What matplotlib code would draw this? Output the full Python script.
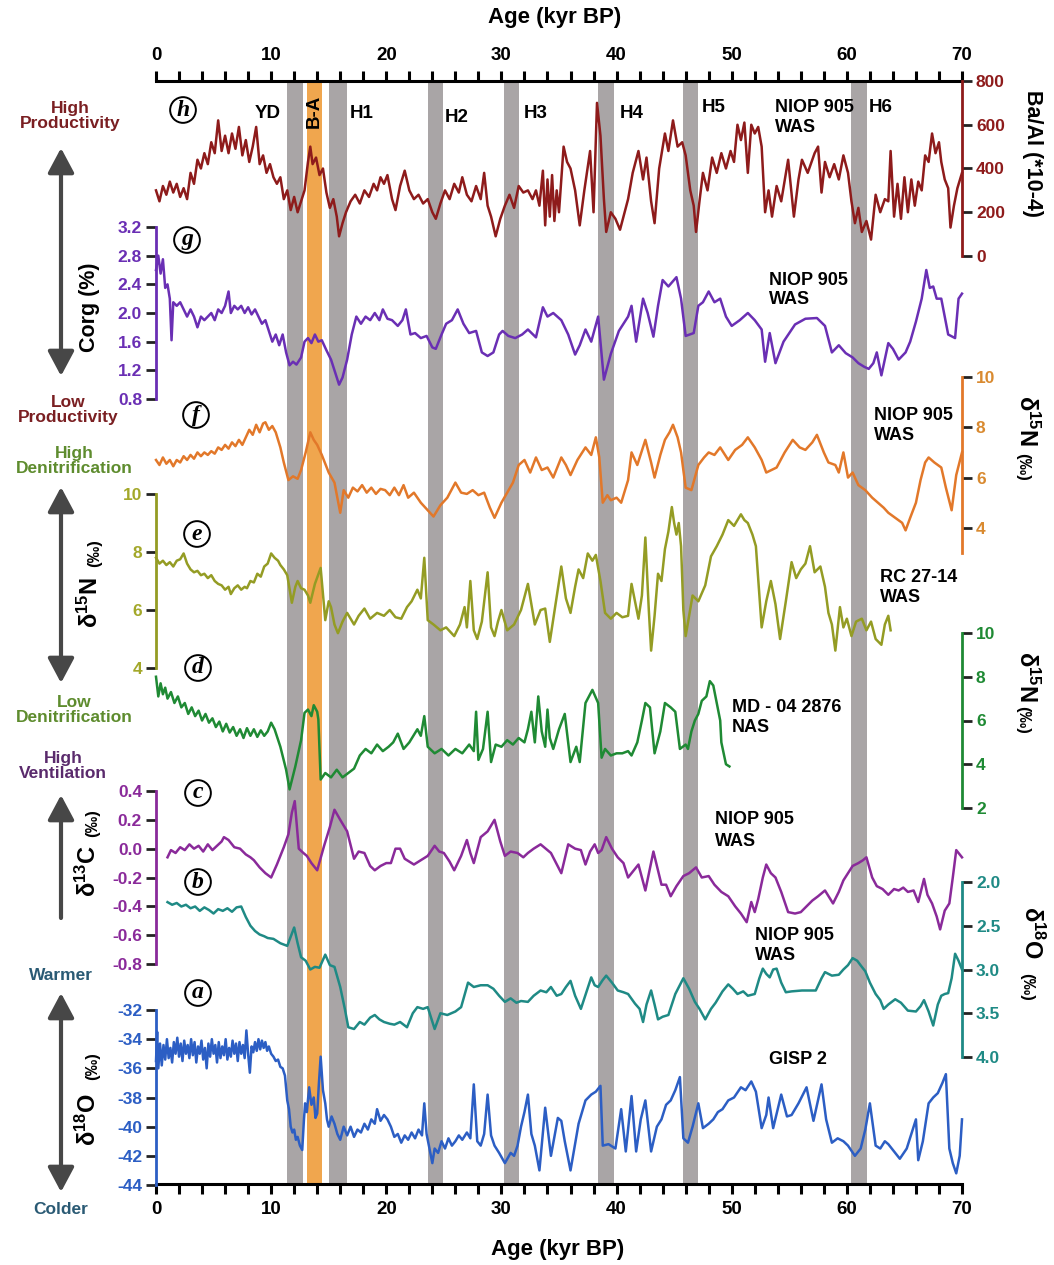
import matplotlib
matplotlib.use('Agg')
import matplotlib.pyplot as plt
from matplotlib.patches import FancyArrowPatch
from matplotlib.ticker import MultipleLocator

# ---------------- DATA ----------------
# (h) Ba/Al NIOP 905
age_h = [0.0, 0.3, 0.6, 0.9, 1.2, 1.5, 1.8, 2.1, 2.4, 2.7,
         3.0, 3.3, 3.6, 3.9, 4.2, 4.5, 4.8, 5.1, 5.4, 5.7,
         6.0, 6.3, 6.6, 6.9, 7.2, 7.5, 7.8, 8.1, 8.4, 8.7,
         9.0, 9.3, 9.6, 9.9, 10.2, 10.5, 10.8, 11.1, 11.4, 11.7,
         12.0, 12.3, 12.6, 12.9, 13.2, 13.4, 13.6, 13.9, 14.2, 14.5,
         14.8, 15.1, 15.4, 15.7, 15.9, 16.2, 16.5, 16.9, 17.3, 17.7,
         18.1, 18.5, 18.9, 19.2, 19.5, 19.8, 20.1, 20.5, 20.8, 21.2,
         21.6, 22.0, 22.4, 22.8, 23.2, 23.6, 24.0, 24.3, 24.7, 25.1,
         25.5, 25.9, 26.3, 26.6, 27.0, 27.4, 27.8, 28.2, 28.5, 28.8,
         29.1, 29.5, 29.9, 30.3, 30.7, 31.1, 31.5, 31.9, 32.3, 32.7,
         33.0, 33.3, 33.6, 33.8, 34.0, 34.2, 34.4, 34.6, 34.8, 35.0,
         35.4, 35.7, 36.0, 36.4, 36.8, 37.2, 37.7, 38.0, 38.3, 38.6,
         38.9, 39.1, 39.5, 39.9, 40.3, 40.7, 41.0, 41.4, 41.9, 42.3,
         42.6, 43.0, 43.3, 43.7, 44.2, 44.5, 44.9, 45.3, 45.7, 46.0,
         46.4, 46.7, 46.9, 47.2, 47.5, 47.9, 48.3, 48.7, 49.1, 49.5,
         49.9, 50.2, 50.5, 50.8, 51.1, 51.4, 51.7, 52.0, 52.3, 52.6,
         52.9, 53.2, 53.5, 53.9, 54.3, 54.9, 55.4, 55.8, 56.1, 56.6,
         57.2, 57.5, 57.8, 58.1, 58.5, 58.9, 59.3, 59.7, 60.1, 60.4,
         60.7, 61.0, 61.3, 61.7, 62.1, 62.5, 62.9, 63.3, 63.6, 63.8,
         64.1, 64.4, 64.7, 65.0, 65.3, 65.6, 65.9, 66.2, 66.5, 66.8,
         67.1, 67.4, 67.7, 68.0, 68.2, 68.5, 68.8, 69.0, 69.3, 69.6,
         70.0]
baal_h = [300, 250, 320, 280, 340, 290, 330, 270, 310, 260,
          380, 330, 440, 400, 470, 420, 520, 470, 620, 480,
          550, 470, 560, 490, 590, 460, 530, 430, 500, 590,
          420, 460, 380, 420, 360, 330, 360, 260, 300, 210,
          270, 200, 250, 300, 430, 500, 420, 450, 370, 400,
          290, 220, 260, 180, 90, 150, 200, 250, 280, 240,
          300, 270, 330, 300, 360, 330, 370, 260, 210, 320,
          390, 300, 260, 280, 240, 260, 200, 170, 240, 300,
          260, 330, 290, 360, 280, 250, 320, 260, 380, 230,
          180, 90, 170, 230, 280, 220, 320, 290, 300, 260,
          300, 230, 390, 140, 350, 180, 370, 160, 300, 200,
          500, 430, 400, 300, 140, 300, 480, 200, 700, 550,
          260, 110, 200, 170, 120, 200, 260, 380, 480, 350,
          450, 250, 150, 400, 560, 480, 620, 500, 520, 460,
          300, 230, 110, 250, 380, 300, 450, 380, 470, 400,
          480, 430, 600, 530, 610, 380, 600, 560, 590, 500,
          200, 300, 180, 320, 250, 440, 180, 350, 440, 380,
          470, 500, 290, 430, 360, 420, 350, 460, 380, 250,
          150, 220, 110, 160, 75, 280, 200, 260, 250, 480,
          180, 330, 170, 360, 200, 350, 230, 340, 300, 460,
          430, 560, 470, 520, 430, 350, 310, 130, 230, 310,
          380]

# (g) Corg NIOP 905
age_g = [0.0, 0.2, 0.4, 0.6, 0.8, 1.0, 1.2, 1.35, 1.5, 1.8,
         2.1, 2.4, 2.7, 3.0, 3.3, 3.6, 3.9, 4.2, 4.5, 4.8,
         5.1, 5.4, 5.7, 6.0, 6.3, 6.5, 6.8, 7.1, 7.4, 7.7,
         8.0, 8.3, 8.6, 8.9, 9.2, 9.5, 9.8, 10.1, 10.4, 10.7,
         11.0, 11.3, 11.6, 11.9, 12.2, 12.6, 12.9, 13.2, 13.5, 13.8,
         14.1, 14.4, 14.8, 15.2, 15.6, 15.9, 16.2, 16.6, 17.0, 17.4,
         17.8, 18.2, 18.6, 19.0, 19.4, 19.7, 20.1, 20.5, 21.0, 21.4,
         21.7, 22.1, 22.5, 23.0, 23.5, 24.0, 24.3, 24.8, 25.2, 25.7,
         26.2, 26.7, 27.2, 27.8, 28.3, 28.8, 29.3, 29.8, 30.1, 30.6,
         31.2, 31.8, 32.3, 33.0, 33.6, 34.0, 34.5, 35.2, 35.8, 36.4,
         36.8, 37.3, 37.8, 38.4, 38.9, 39.5, 40.2, 41.0, 41.3, 41.7,
         42.3, 42.7, 43.2, 43.6, 44.0, 44.5, 45.2, 45.6, 46.0, 46.7,
         47.1, 47.5, 48.0, 48.5, 49.0, 49.5, 50.0, 50.7, 51.4, 52.0,
         52.6, 52.9, 53.3, 53.8, 54.5, 55.5, 56.4, 57.4, 58.1, 58.7,
         59.3, 59.9, 60.5, 61.0, 61.5, 61.9, 62.3, 62.6, 63.0, 63.6,
         64.0, 64.5, 65.1, 65.5, 66.0, 66.5, 66.9, 67.2, 67.5, 67.8,
         68.2, 68.8, 69.4, 69.7, 70.0]
corg_g = [2.6, 2.8, 2.55, 2.75, 2.35, 2.4, 2.2, 1.62, 2.15, 2.1,
          2.15, 2.05, 1.95, 2.05, 1.95, 1.8, 1.95, 1.9, 1.95, 2.0,
          1.9, 2.05, 2.0, 2.1, 2.3, 2.0, 2.1, 2.05, 2.1, 2.0,
          2.08, 1.98, 2.05, 1.95, 1.85, 1.9, 1.75, 1.6, 1.7, 1.55,
          1.7, 1.45, 1.27, 1.32, 1.28, 1.38, 1.6, 1.65, 1.58, 1.7,
          1.6, 1.62, 1.48, 1.35, 1.15, 1.0, 1.1, 1.35, 1.7, 1.95,
          1.85, 1.95, 1.9, 2.0, 1.9, 2.05, 1.92, 1.9, 1.82, 1.9,
          2.05, 1.7, 1.72, 1.65, 1.68, 1.52, 1.5, 1.7, 1.85, 1.9,
          2.05, 1.85, 1.72, 1.75, 1.45, 1.4, 1.45, 1.7, 1.75, 1.68,
          1.65, 1.7, 1.77, 1.66, 2.08, 1.95, 2.0, 1.9, 1.7, 1.42,
          1.55, 1.77, 1.6, 1.95, 1.07, 1.43, 1.75, 1.95, 2.1, 1.6,
          2.2, 2.0, 1.67, 2.1, 2.46, 2.37, 2.5, 2.2, 1.68, 1.72,
          2.1, 2.15, 2.3, 2.15, 2.2, 1.95, 1.82, 1.9, 2.0, 1.9,
          1.77, 1.32, 1.72, 1.3, 1.6, 1.84, 1.92, 1.93, 1.82, 1.45,
          1.55, 1.44, 1.38, 1.3, 1.25, 1.22, 1.3, 1.45, 1.13, 1.58,
          1.5, 1.35, 1.45, 1.6, 1.88, 2.2, 2.6, 2.35, 2.37, 2.2,
          2.2, 1.7, 1.65, 2.2, 2.27]

# (f) d15N NIOP 905
age_f = [0.0, 0.3, 0.6, 0.9, 1.2, 1.5, 1.8, 2.1, 2.4, 2.7,
         3.0, 3.3, 3.6, 3.9, 4.2, 4.5, 4.8, 5.1, 5.4, 5.7,
         6.0, 6.3, 6.6, 6.9, 7.2, 7.5, 7.8, 8.1, 8.4, 8.7,
         9.0, 9.3, 9.5, 9.8, 10.1, 10.4, 10.8, 11.1, 11.5, 11.9,
         12.3, 12.6, 13.0, 13.4, 13.7, 14.0, 14.4, 15.0, 15.5, 16.0,
         16.3, 16.7, 17.1, 17.5, 17.9, 18.3, 18.7, 19.1, 19.5, 19.9,
         20.3, 20.7, 21.1, 21.5, 21.9, 22.4, 23.0, 23.6, 24.1, 24.7,
         25.3, 26.0, 26.5, 27.0, 27.5, 28.0, 28.5, 29.0, 29.4, 30.0,
         30.5, 31.0, 31.5, 32.0, 32.5, 33.0, 33.5, 34.0, 34.5, 35.2,
         35.6, 36.0, 36.6, 37.3, 37.8, 38.2, 38.5, 38.8, 39.2, 39.5,
         40.0, 40.4, 41.0, 41.3, 41.8, 42.5, 43.0, 43.3, 43.8, 44.2,
         44.6, 44.9, 45.3, 45.6, 46.0, 46.5, 47.1, 47.6, 48.0, 48.5,
         49.0, 49.7, 50.3, 50.9, 51.4, 52.0, 52.6, 53.0, 53.9, 54.6,
         55.3, 55.9, 56.4, 57.0, 57.4, 58.0, 58.4, 59.0, 59.3, 59.7,
         60.1, 60.5, 61.0, 61.6, 62.2, 62.7, 63.2, 63.6, 64.2, 64.8,
         65.1, 65.5, 66.0, 66.4, 66.8, 67.1, 67.6, 68.2, 68.6, 69.1,
         69.5, 70.0]
d15n_f = [6.7, 6.5, 6.8, 6.55, 6.7, 6.45, 6.7, 6.6, 6.85, 6.7,
          6.9, 6.75, 7.0, 6.85, 7.0, 6.9, 7.05, 6.95, 7.2, 7.1,
          7.3, 7.15, 7.4, 7.25, 7.5, 7.3, 7.6, 7.9, 7.7, 8.1,
          7.8, 8.15, 8.2, 7.9, 8.05, 7.8, 7.2, 6.6, 5.9, 6.05,
          5.95, 6.3, 7.0, 7.8, 7.5, 7.3, 6.9, 6.2, 5.8, 4.6,
          5.5, 5.2, 5.6, 5.45, 5.7, 5.4, 5.6, 5.35, 5.55, 5.5,
          5.3, 5.6, 5.3, 5.7, 5.2, 5.4, 5.0, 4.7, 4.45, 4.9,
          5.2, 5.8, 5.4, 5.35, 5.5, 5.3, 5.4, 4.8, 4.4, 5.0,
          5.4, 5.8, 6.5, 6.7, 6.2, 6.8, 6.3, 6.4, 6.0, 6.8,
          6.5, 6.1, 6.7, 7.2, 6.9, 7.6, 6.8, 5.0, 5.3, 5.1,
          5.2, 5.0, 5.9, 7.0, 6.5, 7.5, 6.6, 6.0, 6.9, 7.5,
          7.8, 8.1, 7.6, 7.0, 5.6, 5.5, 6.5, 6.8, 7.0, 6.9,
          7.2, 6.7, 7.1, 7.3, 7.6, 7.2, 6.7, 6.2, 6.4, 7.0,
          7.5, 7.2, 7.1, 7.4, 7.7, 7.0, 6.6, 6.5, 6.2, 7.0,
          6.0, 6.2, 5.7, 5.5, 5.2, 5.0, 4.8, 4.6, 4.4, 4.2,
          3.9, 4.4, 5.0, 5.9, 6.6, 6.8, 6.6, 6.4, 5.6, 4.7,
          6.1, 7.0]

# (e) d15N RC 27-14
age_e = [0.0, 0.3, 0.6, 0.9, 1.2, 1.5, 1.8, 2.1, 2.4, 2.7,
         3.0, 3.3, 3.6, 3.9, 4.2, 4.5, 4.8, 5.1, 5.4, 5.7,
         6.0, 6.3, 6.5, 6.8, 7.1, 7.4, 7.7, 7.9, 8.2, 8.5,
         8.8, 9.1, 9.4, 9.7, 10.0, 10.3, 10.6, 10.8, 11.1, 11.4,
         11.8, 12.1, 12.3, 12.6, 12.9, 13.2, 13.4, 13.8, 14.3, 14.7,
         15.0, 15.2, 15.5, 15.8, 16.2, 16.6, 17.2, 17.6, 18.1, 18.6,
         19.2, 19.8, 20.3, 20.8, 21.3, 21.8, 22.2, 22.7, 23.0, 23.3,
         23.6, 24.1, 24.7, 25.2, 25.9, 26.4, 26.8, 27.0, 27.3, 27.6,
         27.9, 28.3, 28.8, 29.1, 29.4, 29.7, 30.0, 30.5, 31.1, 31.7,
         32.3, 32.9, 33.4, 33.8, 34.2, 34.7, 35.2, 35.6, 36.0, 36.4,
         36.7, 37.1, 37.5, 37.9, 38.2, 38.6, 39.0, 39.5, 40.0, 40.5,
         41.0, 41.3, 41.9, 42.2, 42.5, 42.8, 43.0, 43.3, 43.6, 43.9,
         44.2, 44.5, 44.8, 45.0, 45.2, 45.4, 45.6, 45.8, 46.0, 46.3,
         46.6, 47.1, 47.7, 48.2, 48.7, 49.2, 49.7, 50.2, 50.8, 51.1,
         51.4, 51.8, 52.1, 52.4, 52.6, 53.0, 53.4, 53.8, 54.2, 54.7,
         55.2, 55.6, 56.0, 56.4, 56.8, 57.2, 57.7, 58.1, 58.4, 58.7,
         59.0, 59.4, 59.7, 60.0, 60.4, 60.8, 61.3, 61.7, 62.1, 62.5,
         63.0, 63.3, 63.6, 63.8]
d15n_e = [7.8, 7.6, 7.7, 7.55, 7.65, 7.5, 7.7, 7.75, 7.95, 7.6,
          7.4, 7.3, 7.35, 7.2, 7.25, 7.1, 7.2, 7.0, 6.9, 6.85,
          6.7, 6.8, 6.55, 6.75, 6.85, 6.7, 6.8, 6.75, 7.0, 6.95,
          7.25, 7.15, 7.5, 7.6, 7.95, 7.8, 7.7, 7.55, 7.4, 7.2,
          6.25, 6.8, 7.0, 6.75, 6.7, 6.5, 6.25, 6.9, 7.45, 5.65,
          6.3, 6.1, 5.5, 5.2, 5.6, 5.9, 5.5, 5.8, 6.05, 5.7,
          5.9, 5.8, 6.0, 5.75, 5.7, 6.1, 6.3, 6.7, 6.4, 7.8,
          5.65, 5.5, 5.3, 5.4, 5.1, 5.5, 6.1, 5.4, 7.0, 5.3,
          5.0, 5.6, 7.3, 5.4, 5.1, 5.6, 6.0, 5.3, 5.5, 6.0,
          6.9, 5.5, 6.0, 6.05, 4.9, 6.2, 7.5, 6.4, 5.9, 6.8,
          7.4, 7.1, 7.95, 7.7, 7.9, 7.0, 5.9, 5.7, 5.9, 5.75,
          5.8, 6.9, 5.7, 6.5, 8.5, 6.0, 4.6, 5.8, 7.25, 7.0,
          8.1, 8.7, 9.55, 9.0, 8.6, 9.0, 8.2, 6.0, 5.1, 5.8,
          6.5, 6.3, 6.85, 7.85, 8.2, 8.6, 9.1, 8.9, 9.3, 9.1,
          9.0, 8.6, 8.2, 6.5, 5.4, 6.3, 7.0, 6.2, 5.0, 6.3,
          7.65, 7.1, 7.4, 7.6, 8.2, 7.3, 7.5, 6.8, 5.9, 5.5,
          4.6, 6.1, 5.4, 5.7, 5.1, 5.6, 5.7, 5.3, 5.6, 5.0,
          4.8, 5.5, 5.8, 5.3]

# (d) d15N MD-04 2876
age_d = [0.0, 0.2, 0.4, 0.6, 0.8, 1.0, 1.3, 1.6, 1.9, 2.2,
         2.5, 2.8, 3.1, 3.4, 3.7, 4.0, 4.3, 4.6, 4.9, 5.2,
         5.5, 5.8, 6.1, 6.4, 6.7, 7.0, 7.3, 7.6, 7.9, 8.2,
         8.5, 8.8, 9.1, 9.4, 9.7, 10.0, 10.3, 10.8, 11.3, 11.6,
         12.1, 12.6, 12.9, 13.2, 13.5, 13.7, 14.0, 14.1, 14.3, 14.7,
         15.2, 15.7, 16.2, 16.7, 17.2, 17.7, 18.2, 18.7, 19.2, 19.7,
         20.2, 20.6, 21.0, 21.5, 22.0, 22.7, 23.0, 23.3, 23.6, 24.2,
         24.8, 25.4, 26.0, 26.6, 27.2, 27.6, 27.8, 28.0, 28.4, 28.8,
         29.1, 29.5, 30.0, 30.5, 31.0, 31.5, 32.0, 32.3, 32.6, 32.9,
         33.2, 33.5, 33.8, 34.0, 34.2, 34.5, 35.0, 35.5, 36.0, 36.5,
         36.8, 37.3, 37.9, 38.4, 38.7, 39.0, 39.5, 40.0, 40.5, 41.0,
         41.3, 41.8, 42.2, 42.5, 42.9, 43.3, 43.8, 44.2, 44.7, 45.1,
         45.5, 46.0, 46.2, 46.5, 46.8, 47.1, 47.4, 47.8, 48.1, 48.4,
         49.0, 49.1, 49.5, 49.8]
d15n_d = [8.0, 7.1, 7.7, 7.2, 7.5, 7.0, 7.3, 6.8, 7.1, 6.6,
          6.8, 6.3, 6.6, 6.2, 6.45, 6.0, 6.3, 5.9, 6.1, 5.7,
          5.95, 5.5, 5.85, 5.45, 5.7, 5.3, 5.6, 5.2, 5.65, 5.3,
          5.6, 5.25, 5.55, 5.3, 5.5, 5.9, 5.6, 4.8, 3.75, 2.85,
          3.9, 5.1, 6.35, 6.5, 6.2, 6.7, 6.4, 6.05, 3.3, 3.6,
          3.4, 3.75, 3.4, 3.6, 3.8, 4.4, 4.7, 4.5, 4.9, 4.6,
          4.8, 5.0, 5.4, 4.7, 5.0, 5.6, 5.3, 6.2, 4.8, 4.5,
          4.7, 4.4, 4.7, 4.5, 4.9, 4.6, 6.4, 4.2, 4.7, 6.4,
          4.1, 4.9, 4.8, 5.1, 4.9, 5.2, 5.0, 5.6, 6.4, 5.0,
          7.1, 5.5, 4.8, 6.5, 5.2, 4.7, 5.6, 6.3, 4.1, 4.8,
          4.1, 6.8, 7.4, 6.8, 4.3, 4.7, 4.4, 4.5, 4.5, 4.6,
          4.4, 5.0, 6.0, 6.8, 6.6, 4.5, 5.5, 6.8, 6.6, 6.4,
          4.7, 4.9, 4.7, 5.5, 6.0, 6.3, 6.9, 7.1, 7.8, 7.6,
          6.0, 5.0, 4.0, 3.9]

# (c) d13C NIOP 905
age_c = [1.0, 1.3, 1.7, 2.1, 2.5, 2.9, 3.3, 3.7, 4.1, 4.5,
         4.9, 5.3, 5.7, 5.9, 6.3, 6.8, 7.3, 7.8, 8.2, 8.5,
         9.0, 9.5, 10.0, 10.5, 11.1, 11.5, 11.8, 12.05, 12.4, 12.8,
         13.1, 13.5, 14.0, 14.6, 15.1, 15.5, 16.0, 16.6, 17.2, 17.6,
         18.1, 18.6, 19.0, 19.5, 20.0, 20.4, 20.8, 21.2, 21.6, 22.0,
         22.4, 23.0, 23.6, 24.2, 24.6, 25.0, 25.5, 25.9, 26.5, 27.0,
         27.3, 27.6, 28.2, 28.8, 29.4, 29.9, 30.3, 30.8, 31.4, 31.9,
         32.3, 32.8, 33.4, 34.3, 35.2, 35.8, 36.4, 36.9, 37.3, 37.7,
         38.1, 38.4, 38.7, 39.1, 39.6, 40.1, 40.6, 41.0, 41.5, 41.9,
         42.5, 43.2, 43.9, 44.3, 44.7, 45.2, 45.8, 46.3, 46.9, 47.4,
         48.0, 48.5, 49.1, 49.7, 50.3, 50.8, 51.3, 51.7, 52.0, 52.3,
         52.7, 53.0, 53.4, 53.8, 54.3, 54.9, 55.5, 56.0, 56.5, 57.0,
         57.5, 58.1, 58.8, 59.3, 59.7, 60.1, 60.5, 61.0, 61.4, 61.7,
         62.2, 62.6, 63.1, 63.6, 64.1, 64.5, 64.9, 65.3, 65.8, 66.2,
         66.7, 67.0, 67.4, 67.8, 68.1, 68.5, 68.9, 69.2, 69.5, 70.0]
d13c_c = [-0.06, -0.01, -0.03, 0.01, -0.01, 0.03, 0.0, 0.02, -0.02, 0.03,
          -0.01, 0.02, 0.05, 0.08, 0.06, 0.01, 0.0, -0.04, -0.06, -0.08,
          -0.13, -0.17, -0.2, -0.11, 0.01, 0.1, 0.25, 0.33, 0.0, -0.03,
          -0.05, -0.1, -0.15, 0.02, 0.15, 0.27, 0.2, 0.12, -0.07, -0.02,
          -0.03, -0.12, -0.15, -0.12, -0.1, -0.1, 0.0, 0.0, -0.07, -0.09,
          -0.11, -0.08, -0.05, 0.02, -0.02, -0.03, -0.09, -0.15, -0.05, 0.06,
          -0.03, -0.1, 0.08, 0.12, 0.2, 0.05, -0.05, -0.02, -0.03, -0.06,
          -0.03, 0.0, 0.03, -0.03, -0.17, 0.03, 0.0, -0.01, -0.11, -0.02,
          0.03, -0.03, -0.01, 0.08, 0.0, -0.06, -0.1, -0.2, -0.15, -0.11,
          -0.29, -0.02, -0.25, -0.25, -0.33, -0.26, -0.19, -0.17, -0.13, -0.2,
          -0.19, -0.25, -0.3, -0.33, -0.4, -0.45, -0.51, -0.37, -0.44, -0.35,
          -0.2, -0.11, -0.17, -0.2, -0.3, -0.44, -0.45, -0.44, -0.4, -0.36,
          -0.33, -0.29, -0.38, -0.3, -0.22, -0.17, -0.12, -0.1, -0.08, -0.06,
          -0.2, -0.26, -0.28, -0.32, -0.28, -0.29, -0.27, -0.3, -0.29, -0.37,
          -0.21, -0.32, -0.38, -0.47, -0.56, -0.43, -0.38, -0.2, -0.01, -0.06]

# (b) benthic d18O NIOP 905
age_b = [1.0, 1.4, 1.8, 2.2, 2.6, 3.0, 3.4, 3.8, 4.2, 4.6,
         5.0, 5.4, 5.8, 6.2, 6.6, 7.0, 7.4, 7.8, 8.2, 8.6,
         9.0, 9.4, 9.7, 10.2, 10.8, 11.4, 12.0, 12.3, 12.6, 13.0,
         13.4, 13.8, 14.2, 14.7, 15.1, 15.5, 16.0, 16.4, 16.7, 17.2,
         17.7, 18.1, 18.6, 19.0, 19.4, 19.8, 20.3, 20.7, 21.2, 21.8,
         22.3, 22.7, 23.2, 23.6, 24.2, 24.7, 25.3, 26.0, 26.5, 27.1,
         27.6, 28.2, 28.8, 29.3, 29.8, 30.3, 30.8, 31.3, 31.7, 32.3,
         32.8, 33.4, 33.9, 34.3, 34.8, 35.2, 35.6, 36.0, 36.4, 36.9,
         37.4, 37.8, 38.1, 38.4, 38.8, 39.1, 39.6, 40.1, 40.6, 41.0,
         41.6, 42.0, 42.3, 42.6, 43.0, 43.3, 43.6, 44.0, 44.5, 45.1,
         45.8, 46.3, 46.8, 47.2, 47.7, 48.2, 48.6, 49.2, 49.7, 50.1,
         50.5, 51.0, 51.4, 52.0, 52.4, 52.7, 53.0, 53.3, 53.6, 53.9,
         54.3, 54.7, 55.2, 56.1, 57.3, 57.8, 58.1, 58.7, 59.3, 59.7,
         60.1, 60.5, 60.9, 61.3, 61.6, 62.0, 62.5, 62.9, 63.2, 63.6,
         64.2, 64.7, 65.3, 66.0, 66.4, 66.7, 67.1, 67.5, 67.9, 68.2,
         68.5, 68.8, 69.1, 69.4, 69.7, 70.0]
d18o_b = [2.23, 2.26, 2.24, 2.28, 2.26, 2.3, 2.28, 2.33, 2.29, 2.32,
          2.36, 2.31, 2.33, 2.3, 2.34, 2.29, 2.28, 2.4, 2.5, 2.56,
          2.6, 2.62, 2.64, 2.65, 2.7, 2.73, 2.52, 2.7, 2.86, 2.9,
          3.0, 2.97, 2.98, 2.83, 2.95, 2.97, 3.2, 3.45, 3.66, 3.68,
          3.6, 3.63, 3.55, 3.52, 3.57, 3.6, 3.62, 3.63, 3.6, 3.66,
          3.5, 3.43, 3.45, 3.43, 3.68, 3.5, 3.52, 3.48, 3.43, 3.15,
          3.2, 3.18, 3.18, 3.22, 3.3, 3.37, 3.33, 3.38, 3.36, 3.37,
          3.3, 3.24, 3.26, 3.2, 3.3, 3.28, 3.2, 3.13, 3.3, 3.45,
          3.25, 3.09, 3.18, 3.2, 3.12, 3.07, 3.15, 3.24, 3.26, 3.28,
          3.39, 3.45, 3.6, 3.4, 3.24, 3.4, 3.57, 3.54, 3.52, 3.28,
          3.1, 3.22, 3.37, 3.45, 3.57, 3.45, 3.38, 3.25, 3.17, 3.22,
          3.28, 3.25, 3.3, 3.28, 3.1, 2.99, 3.05, 3.09, 3.0, 2.99,
          3.15, 3.26, 3.25, 3.24, 3.24, 3.1, 3.03, 3.07, 3.06, 3.0,
          2.95, 2.87, 2.9, 2.97, 3.02, 3.15, 3.28, 3.35, 3.45, 3.4,
          3.34, 3.38, 3.47, 3.48, 3.42, 3.35, 3.48, 3.64, 3.4, 3.3,
          3.28, 3.27, 3.1, 2.82, 2.9, 3.0]

# (a) GISP2 d18O
age_a = [0.0, 0.1, 0.2, 0.35, 0.5, 0.65, 0.8, 0.95, 1.1, 1.25,
         1.4, 1.55, 1.7, 1.85, 2.0, 2.15, 2.3, 2.45, 2.6, 2.75,
         2.9, 3.05, 3.2, 3.35, 3.5, 3.65, 3.8, 3.95, 4.1, 4.25,
         4.4, 4.55, 4.7, 4.85, 5.0, 5.15, 5.3, 5.45, 5.6, 5.75,
         5.9, 6.05, 6.2, 6.35, 6.5, 6.65, 6.8, 6.95, 7.1, 7.25,
         7.4, 7.55, 7.7, 7.85, 8.0, 8.15, 8.3, 8.45, 8.6, 8.75,
         8.9, 9.05, 9.2, 9.35, 9.5, 9.65, 9.8, 10.0, 10.2, 10.4,
         10.6, 10.8, 11.0, 11.2, 11.4, 11.55, 11.7, 11.85, 12.0, 12.15,
         12.3, 12.5, 12.7, 12.85, 12.95, 13.1, 13.3, 13.5, 13.7, 13.85,
         14.0, 14.15, 14.3, 14.5, 14.7, 14.85, 15.0, 15.25, 15.5, 15.75,
         16.0, 16.3, 16.6, 16.9, 17.2, 17.5, 17.8, 18.1, 18.4, 18.7,
         19.0, 19.2, 19.5, 19.8, 20.1, 20.4, 20.7, 21.0, 21.3, 21.6,
         21.9, 22.2, 22.5, 22.8, 23.1, 23.3, 23.5, 23.7, 24.0, 24.2,
         24.5, 24.8, 25.1, 25.4, 25.7, 26.0, 26.3, 26.6, 27.0, 27.3,
         27.6, 27.9, 28.2, 28.5, 28.8, 29.1, 29.4, 29.8, 30.3, 30.8,
         31.1, 31.4, 31.7, 32.0, 32.3, 32.6, 32.9, 33.3, 33.8, 34.3,
         34.9, 35.2, 35.5, 36.0, 36.7, 37.3, 37.8, 38.2, 38.6, 38.8,
         39.3, 39.9, 40.4, 40.8, 41.3, 41.7, 42.1, 42.5, 43.0, 43.5,
         43.9, 44.3, 44.7, 45.1, 45.5, 45.8, 46.2, 46.6, 47.1, 47.5,
         48.0, 48.4, 48.8, 49.2, 49.7, 50.2, 50.8, 51.2, 51.7, 52.1,
         52.6, 53.0, 53.2, 53.6, 54.3, 54.8, 55.2, 55.8, 56.5, 57.1,
         57.8, 58.2, 58.7, 59.2, 59.7, 60.1, 60.7, 61.2, 61.6, 62.0,
         62.5, 62.9, 63.3, 63.6, 64.0, 64.6, 65.2, 66.0, 66.2, 66.6,
         67.1, 67.5, 67.9, 68.3, 68.6, 68.9, 69.2, 69.5, 69.8, 70.0]
d18o_a = [-35.5, -33.5, -36.0, -34.3, -35.8, -34.4, -35.4, -34.0, -35.3, -34.6,
          -35.6, -34.2, -35.0, -33.9, -35.2, -34.3, -35.5, -34.1, -35.0, -34.4,
          -35.3, -34.0, -35.1, -34.2, -35.6, -34.5, -35.0, -34.1, -35.4, -34.6,
          -36.0, -34.3, -35.2, -34.0, -35.0, -34.4, -35.6, -34.2, -35.3, -34.5,
          -35.1, -34.0, -35.4, -34.6, -35.2, -34.1, -35.0, -34.3, -35.5, -34.2,
          -35.0, -34.4, -35.3, -33.4, -35.0, -36.3, -34.5, -34.9, -34.2, -34.8,
          -34.0, -34.7, -34.1, -34.6, -34.2, -34.8, -34.5, -35.0, -35.2, -35.5,
          -35.4, -35.9, -36.0, -36.5, -38.2, -38.8, -40.0, -40.4, -40.2, -40.9,
          -40.7, -41.3, -41.6, -39.5, -38.4, -39.0, -37.3, -38.5, -38.0, -39.4,
          -39.1, -37.0, -35.2, -37.5, -38.4, -39.5, -40.0, -39.3, -39.8, -40.5,
          -40.9, -40.0, -40.6, -40.0, -40.7, -40.2, -40.4, -39.8, -40.2, -39.5,
          -39.8, -38.8, -39.6, -39.2, -39.5, -40.0, -40.7, -40.5, -41.1, -40.6,
          -40.9, -40.4, -40.8, -40.2, -40.6, -38.4, -40.5, -41.3, -42.5, -41.5,
          -41.8, -41.0, -41.5, -40.8, -41.3, -41.0, -40.6, -40.9, -40.4, -40.8,
          -37.1, -41.0, -41.3, -40.5, -37.8, -40.6, -41.3, -41.8, -42.5, -41.8,
          -42.0, -41.3, -40.0, -39.0, -37.8, -40.5, -41.3, -43.0, -38.7, -42.0,
          -39.4, -39.6, -41.0, -43.0, -39.8, -38.2, -37.8, -37.6, -37.2, -41.3,
          -41.2, -41.5, -38.8, -41.7, -37.9, -41.7, -39.5, -38.2, -41.7, -40.0,
          -39.5, -38.5, -38.2, -37.5, -36.6, -40.8, -41.1, -40.0, -38.4, -40.1,
          -39.8, -39.5, -39.0, -38.8, -38.2, -38.0, -37.3, -37.5, -36.9, -37.6,
          -40.1, -39.2, -38.0, -40.1, -37.8, -39.3, -39.2, -38.4, -37.3, -39.6,
          -37.1, -39.5, -41.1, -40.8, -41.0, -41.3, -42.0, -41.5, -40.2, -38.4,
          -41.3, -41.5, -41.0, -41.2, -41.6, -42.2, -41.5, -39.5, -42.3, -41.0,
          -38.4, -38.0, -37.7, -37.0, -36.4, -41.5, -42.5, -43.2, -42.0, -39.5]

# climate events
gray_bands = [(11.4, 12.8), (15.0, 16.6), (23.6, 24.9), (30.2, 31.5),
              (38.4, 39.75), (45.75, 47.1), (60.4, 61.75)]
ba_band = (13.1, 14.4)
event_names = ['YD', 'H1', 'H2', 'H3', 'H4', 'H5', 'H6']
event_px = [(268, 113), (362, 113), (457, 117), (536, 113), (632, 113), (714, 107), (881, 107)]

# ---------------- STYLE / LAYOUT ----------------
W, H = 1054, 1265
plt.rcParams['font.family'] = ['Liberation Sans', 'DejaVu Sans']
plt.rcParams['font.weight'] = 'bold'
plt.rcParams['mathtext.fontset'] = 'custom'
plt.rcParams['mathtext.rm'] = 'Liberation Sans:bold'
plt.rcParams['mathtext.bf'] = 'Liberation Sans:bold'
plt.rcParams['mathtext.it'] = 'Liberation Sans:bold:italic'
plt.rcParams['mathtext.default'] = 'bf'

fig = plt.figure(figsize=(W / 100, H / 100), dpi=100)
X0, X1 = 156, 962


def rect(ytop, ybot):
    return [X0 / W, 1 - ybot / H, (X1 - X0) / W, (ybot - ytop) / H]


def T(x, y, s, **kw):
    kw.setdefault('ha', 'center')
    kw.setdefault('va', 'center')
    kw.setdefault('fontweight', 'bold')
    return fig.text(x / W, 1 - y / H, s, **kw)


# main axis: bands and age axes
axm = fig.add_axes(rect(81, 1184))
axm.set_facecolor('none')
axm.set_xlim(0, 70)
axm.set_ylim(0, 1)
axm.spines['left'].set_visible(False)
axm.spines['right'].set_visible(False)
axm.spines['top'].set_linewidth(2.2)
axm.spines['bottom'].set_linewidth(2.2)
axm.set_yticks([])
axm.xaxis.set_major_locator(MultipleLocator(10))
axm.xaxis.set_minor_locator(MultipleLocator(2))
axm.tick_params(axis='x', which='both', direction='out', length=7, width=2.2,
                top=True, labeltop=True, bottom=True, labelbottom=True,
                labelsize=13.5, pad=5)
for lab in axm.get_xticklabels():
    lab.set_fontweight('bold')
for x0, x1 in gray_bands:
    axm.axvspan(x0, x1, color='#A9A5A6', lw=0, zorder=0)
axm.axvspan(ba_band[0], ba_band[1], color='#F0A64E', lw=0, zorder=0)


def panel(ytop, ybot, lo, hi, side, color, ticks, fmt, lcolor=None, invert=False):
    ax = fig.add_axes(rect(ytop, ybot))
    ax.set_facecolor('none')
    ax.set_xlim(0, 70)
    if invert:
        ax.set_ylim(hi, lo)
    else:
        ax.set_ylim(lo, hi)
    for s in ['top', 'bottom', 'left', 'right']:
        ax.spines[s].set_visible(s == side)
    ax.spines[side].set_color(color)
    ax.spines[side].set_linewidth(2)
    ax.set_xticks([])
    ax.yaxis.set_ticks_position(side)
    ax.set_yticks(ticks)
    ax.set_yticklabels([fmt % t for t in ticks])
    ax.tick_params(axis='y', direction='out', length=7, width=2, color='#222222',
                   labelcolor=lcolor or color, labelsize=12.5, pad=3)
    for lab in ax.get_yticklabels():
        lab.set_fontweight('bold')
    return ax


c_h = '#8E1B1B'
c_g = '#6A2FB4'
c_f = '#E2782A'
c_e = '#949C24'
c_d = '#1F8A34'
c_c = '#8A2A9A'
c_b = '#1F8A85'
c_a = '#2C5EC4'
LW = 1.8

ax_h = panel(81, 256, 0, 800, 'right', c_h, [0, 200, 400, 600, 800], '%d')
ax_h.plot(age_h, baal_h, color=c_h, lw=LW, clip_on=False)

ax_g = panel(227, 399, 0.8, 3.2, 'left', c_g, [0.8, 1.2, 1.6, 2.0, 2.4, 2.8, 3.2], '%.1f')
ax_g.plot(age_g, corg_g, color=c_g, lw=LW, clip_on=False)

ax_f = panel(377, 553, 3, 10, 'right', c_f, [4, 6, 8, 10], '%d', lcolor='#D98A30')
ax_f.plot(age_f, d15n_f, color=c_f, lw=LW, clip_on=False)

ax_e = panel(494, 668, 4, 10, 'left', c_e, [4, 6, 8, 10], '%d', lcolor='#A3A82A')
ax_e.plot(age_e, d15n_e, color=c_e, lw=LW, clip_on=False)

ax_d = panel(633, 808, 2, 10, 'right', c_d, [2, 4, 6, 8, 10], '%d')
ax_d.plot(age_d, d15n_d, color=c_d, lw=LW, clip_on=False)

ax_c = panel(791, 964, -0.8, 0.4, 'left', c_c, [-0.8, -0.6, -0.4, -0.2, 0.0, 0.2, 0.4], '%.1f')
ax_c.plot(age_c, d13c_c, color=c_c, lw=LW, clip_on=False)

ax_b = panel(882, 1057, 2.0, 4.0, 'right', c_b, [2.0, 2.5, 3.0, 3.5, 4.0], '%.1f', invert=True)
ax_b.plot(age_b, d18o_b, color=c_b, lw=LW, clip_on=False)

ax_a = panel(1010, 1185, -44, -32, 'left', c_a, [-44, -42, -40, -38, -36, -34, -32], '%d')
ax_a.plot(age_a, d18o_a, color=c_a, lw=LW, clip_on=False)

# axis titles
T(555, 17, 'Age (kyr BP)', fontsize=16)
T(558, 1250, 'Age (kyr BP)', fontsize=16)

# right y labels (rotated 270)
T(1032, 153, 'Ba/Al (*10-4)', fontsize=15.5, rotation=270)
T(1027, 421, r'δ$^{15}$N', fontsize=17, rotation=270)
T(1023, 467, '(‰)', fontsize=12, rotation=270)
T(1027, 677, r'δ$^{15}$N', fontsize=17, rotation=270)
T(1023, 720, '(‰)', fontsize=12, rotation=270)
T(1032, 932, r'δ$^{18}$O', fontsize=17, rotation=270)
T(1027, 987, '(‰)', fontsize=12, rotation=270)

# left y labels (rotated 90)
T(90, 307, 'Corg (%)', fontsize=15.5, rotation=90)
T(90, 602, r'δ$^{15}$N', fontsize=17, rotation=90)
T(95, 553, '(‰)', fontsize=12, rotation=90)
T(88, 871, r'δ$^{13}$C', fontsize=17, rotation=90)
T(93, 823, '(‰)', fontsize=12, rotation=90)
T(88, 1120, r'δ$^{18}$O', fontsize=17, rotation=90)
T(93, 1066, '(‰)', fontsize=12, rotation=90)

# left annotations
T(70, 116, 'High\nProductivity', fontsize=12.5, color='#7A1F22', linespacing=1.05)
T(68, 410, 'Low\nProductivity', fontsize=12.5, color='#7A1F22', linespacing=1.05)
T(74, 461, 'High\nDenitrification', fontsize=12.5, color='#5E8C2E', linespacing=1.05)
T(74, 710, 'Low\nDenitrification', fontsize=12.5, color='#5E8C2E', linespacing=1.05)
T(63, 766, 'High\nVentilation', fontsize=12.5, color='#5A2A6C', linespacing=1.05)
T(61, 975, 'Warmer', fontsize=12.5, color='#2A5A74')
T(61, 1210, 'Colder', fontsize=12.5, color='#2A5A74')


def arrow(x, y1, y2, style):
    a = FancyArrowPatch((x / W, 1 - y1 / H), (x / W, 1 - y2 / H), transform=fig.transFigure,
                        arrowstyle=style, mutation_scale=20, lw=3, color='#474747',
                        shrinkA=0, shrinkB=0)
    fig.add_artist(a)


arrow(61, 148, 376, '<|-|>,head_length=0.75,head_width=0.4')
arrow(61, 487, 683, '<|-|>,head_length=0.75,head_width=0.4')
arrow(61, 918, 795, '-|>,head_length=0.75,head_width=0.4')
arrow(61, 993, 1192, '<|-|>,head_length=0.75,head_width=0.4')

# panel letters
letters = [('h', 183, 110), ('g', 187, 240), ('f', 196, 415), ('e', 197, 534),
           ('d', 198, 668), ('c', 198, 793), ('b', 198, 882), ('a', 198, 993)]
for s, x, y in letters:
    T(x, y, s, fontsize=17, family='Liberation Serif', style='italic',
      bbox=dict(boxstyle='circle,pad=0.1', fc='white', ec='black', lw=1.4))

# events
for name, (x, y) in zip(event_names, event_px):
    T(x, y, name, fontsize=13.5)
T(314, 111, 'B-A', fontsize=13.5, rotation=90)

# dataset labels
FS = 13
T(775, 107, 'NIOP 905', fontsize=FS, ha='left')
T(775, 128, 'WAS', fontsize=FS, ha='left')
T(769, 280, 'NIOP 905', fontsize=FS, ha='left')
T(769, 299, 'WAS', fontsize=FS, ha='left')
T(874, 415, 'NIOP 905', fontsize=FS, ha='left')
T(874, 436, 'WAS', fontsize=FS, ha='left')
T(880, 578, 'RC 27-14', fontsize=FS, ha='left')
T(880, 598, 'WAS', fontsize=FS, ha='left')
T(732, 708, 'MD - 04 2876', fontsize=FS, ha='left')
T(732, 728, 'NAS', fontsize=FS, ha='left')
T(715, 820, 'NIOP 905', fontsize=FS, ha='left')
T(715, 841, 'WAS', fontsize=FS, ha='left')
T(755, 935, 'NIOP 905', fontsize=FS, ha='left')
T(755, 956, 'WAS', fontsize=FS, ha='left')
T(769, 1060, 'GISP 2', fontsize=FS, ha='left')

fig.savefig('out.png', dpi=100)
